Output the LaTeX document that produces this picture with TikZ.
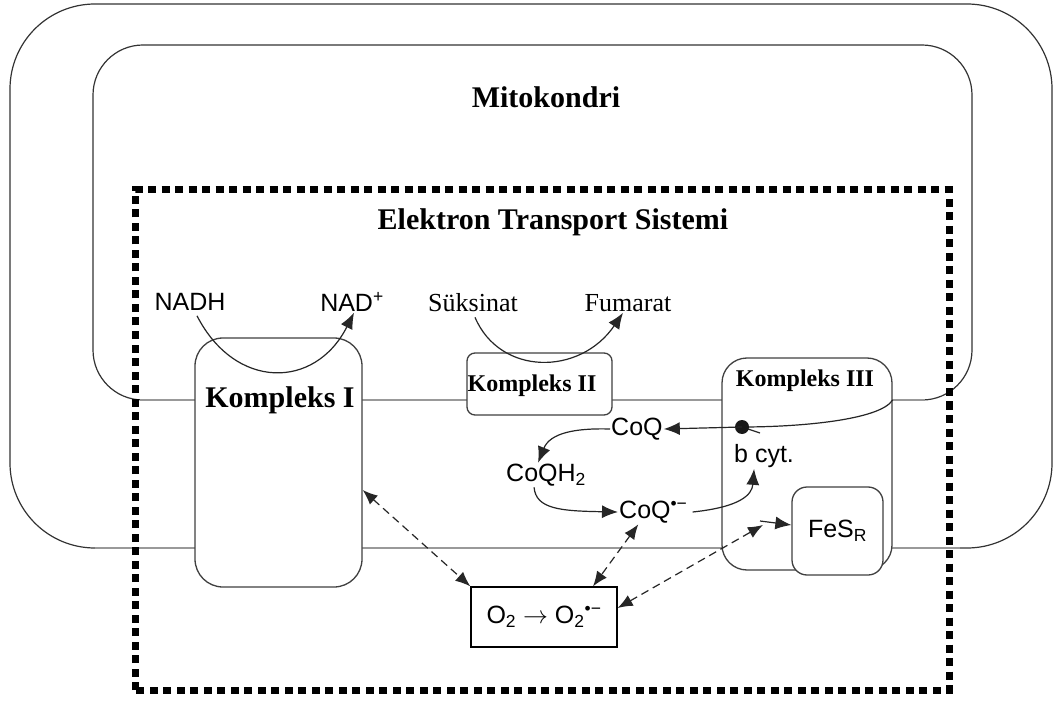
\documentclass[tikz,border=0pt]{standalone}
\usepackage{fontspec}
\setmainfont{Liberation Serif}
\setsansfont{Liberation Sans}
\usetikzlibrary{arrows.meta,positioning}

\begin{document}
\begin{tikzpicture}[x=1pt,y=1pt]
    \tikzstyle{kutu}=[rectangle,draw=black!75,line width=1.3pt,fill=white,inner sep=0pt]
    \tikzstyle{baslik}=[font=\fontsize{30}{36}\selectfont\bfseries]
    \tikzstyle{kbaslik}=[font=\fontsize{24}{28}\selectfont\bfseries]
    \tikzstyle{etiket}=[font=\fontsize{25}{30}\selectfont\sffamily,inner sep=1pt]
    \tikzstyle{madde}=[font=\fontsize{26}{30}\selectfont,inner sep=1pt]

    \tikzstyle{zar}=[draw=black!80,line width=1.2pt]       % membrane outline
    \tikzstyle{zarcizgi}=[draw=black!40,line width=2.6pt]  % membrane line
    \tikzstyle{ok}=[draw=black!85,line width=1.2pt,-{Latex[length=16pt,width=13pt]}]
    \tikzstyle{cift}=[ok,dashed,dash pattern=on 8pt off 5pt,{Latex[length=15pt,width=12pt]}-{Latex[length=15pt,width=12pt]}]

    \useasboundingbox (0,0) rectangle (1054,705);

    % mitochondrion
    \draw[zar,rounded corners=85pt] (10,157) rectangle (1052,701);
    \draw[zar,rounded corners=50pt] (93,305) rectangle (972,660);
    \draw[zarcizgi] (95,157) -- (960,157);
    \draw[zarcizgi] (140,305) -- (925,305);

    \node[baslik] (mito) at (546,608) {Mitokondri};
    \node[baslik] (ets) at (553,483) {Elektron Transport Sistemi};

    % complexes
    \node[kutu,rounded corners=28pt,minimum width=167pt,minimum height=249pt] (k1) at (278.5,242.5) {};
    \node[kutu,rounded corners=8pt,minimum width=145pt,minimum height=62pt] (k2) at (539.5,321) {};
    \node[kutu,rounded corners=25pt,minimum width=170pt,minimum height=212pt] (k3) at (807,241) {};
    \node[kutu,rounded corners=15pt,minimum width=91pt,minimum height=88pt,
          font=\fontsize{25}{30}\selectfont\sffamily] (fes) at (837.5,174) {FeS\textsubscript{R}};
    \node[kutu,draw=black,minimum width=146pt,minimum height=60pt,
          font=\fontsize{25}{30}\selectfont\sffamily] (o2) at (544,88) {O\textsubscript{2} $\rightarrow$ O\textsubscript{2}\textsuperscript{•−}};

    \node[baslik] (k1lbl) at (280,305) {Kompleks I};
    \node[kbaslik] (k2lbl) at (532,319) {Kompleks II};
    \node[kbaslik] (k3lbl) at (805,324) {Kompleks III};

    % substrates
    \node[etiket] (nadh) at (190,403) {NADH};
    \node[etiket] (nad) at (352,403) {NAD\textsuperscript{+}};
    \node[madde] (suk) at (473,402) {Süksinat};
    \node[madde] (fum) at (628,402) {Fumarat};

    \node[etiket,anchor=west] (coq) at (610,276) {CoQ};
    \node[etiket,anchor=west] (coqh) at (505,230) {CoQH\textsubscript{2}};
    \node[etiket,anchor=west] (coqr) at (618,193) {CoQ\textsuperscript{•−}};
    \node[etiket,anchor=west] (bcyt) at (733,249) {b cyt.};

    \coordinate (dot) at (742,278);
    \coordinate (fesuc) at (763,180);

    \draw[ok] ([xshift=7pt,yshift=-4pt]nadh.south) .. controls (235,315) and (315,315) .. ([xshift=2pt]nad.south);
    \draw[ok] ([xshift=2pt,yshift=-4pt]suk.south) .. controls (500,329) and (580,329) .. ([xshift=-5pt]fum.south);

    \draw[draw=black!85,line width=1.2pt] (k3.east |- 0,305) .. controls (880,285) and (800,278) .. (dot);
    \draw[draw=black!85,line width=1.2pt] (dot) -- ++(18,-6);
    \fill[black!90] (dot) circle (7pt);
    \draw[ok] (dot) -- (coq.east);
    \draw[ok] (coq.west) .. controls (575,277) and (550,272) .. ([xshift=-8pt]coqh.north);
    \draw[ok] ([xshift=-12pt]coqh.south) .. controls (536,196) and (560,194) .. (coqr.west);
    \draw[ok] ([xshift=4pt]coqr.east) .. controls (740,198) and (752,210) .. ([xshift=-10pt]bcyt.south);

    \draw[cift] (k1.east |- 0,215) -- (o2.north west);
    \draw[cift] ([xshift=-15pt]coqr.south) -- ([xshift=49pt]o2.north);
    \draw[cift] ([yshift=9pt]o2.east) -- (fesuc);
    \draw[ok] ([xshift=-3pt,yshift=4pt]fesuc) -- (fes.west |- fesuc);

    % electron transport system
    \draw[line width=7pt,dash pattern=on 8pt off 5.5pt] (135,15) rectangle (949,515);
\end{tikzpicture}
\end{document}
